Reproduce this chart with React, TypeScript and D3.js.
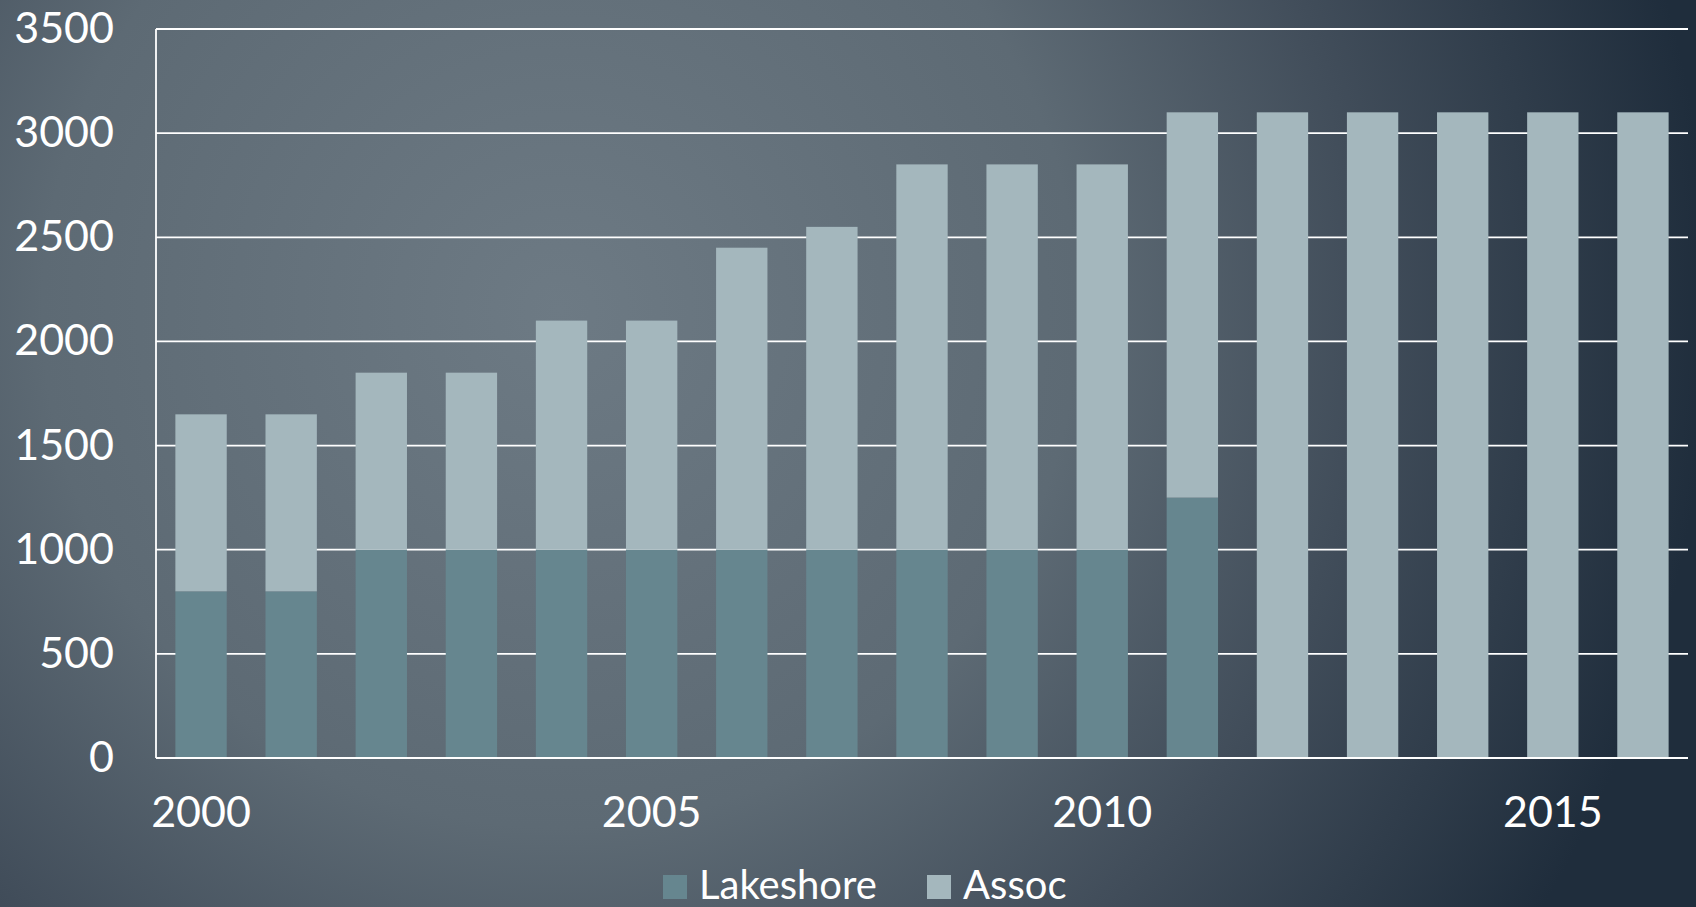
import React from "react";
import * as d3 from "d3";

const years = [2000, 2001, 2002, 2003, 2004, 2005, 2006, 2007, 2008, 2009, 2010, 2011, 2012, 2013, 2014, 2015, 2016];
const lakeshore = [800, 800, 1000, 1000, 1000, 1000, 1000, 1000, 1000, 1000, 1000, 1250, 0, 0, 0, 0, 0];
const assoc = [850, 850, 850, 850, 1100, 1100, 1450, 1550, 1850, 1850, 1850, 1850, 3100, 3100, 3100, 3100, 3100];
const yTicks = [0, 500, 1000, 1500, 2000, 2500, 3000, 3500];
const xTickYears = [2000, 2005, 2010, 2015];
const seriesNames = ["Lakeshore", "Assoc"];
const seriesColors = ["#66868f", "#a4b7bd"];

const W = 1696;
const H = 907;
const left = 156;
const right = 1688;
const top = 29;
const bottom = 758;
const FONT = "Lato, 'Open Sans', sans-serif";

export default function App() {
  if (typeof document !== "undefined") document.body.style.margin = "0";
  const x = d3.scaleBand<number>().domain(years).range([left, right]).paddingInner(0.43).paddingOuter(0.215);
  const y = d3.scaleLinear().domain([0, 3500]).range([bottom, top]);
  const stacked = d3.stack<any>().keys(["lakeshore", "assoc"])(
    years.map((yr, i) => ({ year: yr, lakeshore: lakeshore[i], assoc: assoc[i] }))
  );

  return (
    <svg width={W} height={H} style={{ position: "absolute", left: 0, top: 0, display: "block" }}>
      <defs>
        <radialGradient id="bg" gradientUnits="userSpaceOnUse" cx={560} cy={310} r={1150}>
          <stop offset="0" stopColor="#6d7a84" />
          <stop offset="0.45" stopColor="#5d6a74" />
          <stop offset="0.7" stopColor="#414d5a" />
          <stop offset="1" stopColor="#1f2d3c" />
        </radialGradient>
      </defs>
      <rect x={0} y={0} width={W} height={H} fill="url(#bg)" />
      {yTicks.map((t) => (
        <g key={t}>
          <line x1={left} x2={right} y1={y(t)} y2={y(t)} stroke="#ffffff" strokeWidth={1.8} />
          <text x={114} y={y(t) + 14} textAnchor="end" fill="#ffffff" fontSize={43} fontFamily={FONT}>
            {t}
          </text>
        </g>
      ))}
      <line x1={left} x2={left} y1={y(3500)} y2={bottom} stroke="#ffffff" strokeWidth={1.8} />
      {stacked.map((s, si) => (
        <g key={si} fill={seriesColors[si]}>
          {s.map((d, i) =>
            d[1] - d[0] > 0 ? (
              <rect
                key={i}
                x={x(years[i])}
                width={x.bandwidth()}
                y={y(d[1])}
                height={y(d[0]) - y(d[1])}
              />
            ) : null
          )}
        </g>
      ))}
      <line x1={left} x2={right} y1={bottom} y2={bottom} stroke="#ffffff" strokeWidth={1.8} />
      {xTickYears.map((yr) => (
        <text
          key={yr}
          x={(x(yr) as number) + x.bandwidth() / 2}
          y={827}
          textAnchor="middle"
          fill="#ffffff"
          fontSize={43}
          fontFamily={FONT}
        >
          {yr}
        </text>
      ))}
      <g>
        <rect x={663} y={875} width={24} height={24} fill={seriesColors[0]} />
        <text x={699} y={899} fill="#ffffff" fontSize={40} fontFamily={FONT}>
          {seriesNames[0]}
        </text>
        <rect x={927} y={875} width={24} height={24} fill={seriesColors[1]} />
        <text x={963} y={899} fill="#ffffff" fontSize={40} fontFamily={FONT}>
          {seriesNames[1]}
        </text>
      </g>
    </svg>
  );
}
